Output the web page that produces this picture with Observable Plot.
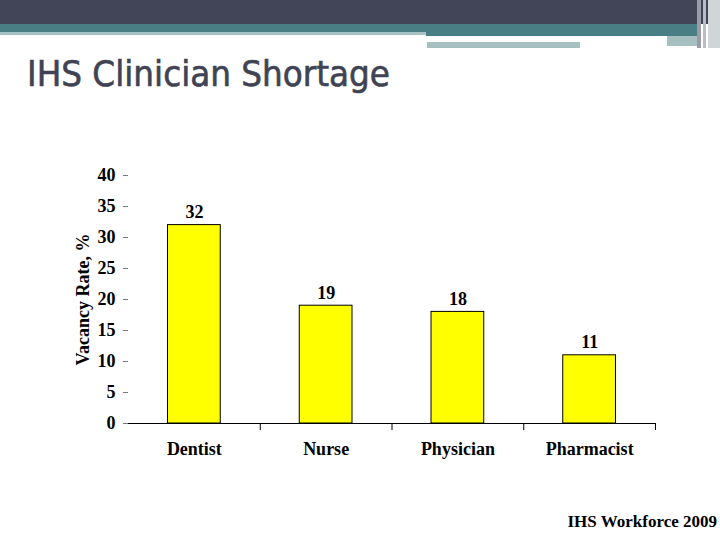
<!DOCTYPE html>
<html>
<head>
<meta charset="utf-8">
<script src="https://cdn.jsdelivr.net/npm/d3@7"></script>
<script src="https://cdn.jsdelivr.net/npm/@observablehq/plot@0.6"></script>
<style>
  html, body { margin: 0; padding: 0; background: #ffffff; }
  #page { position: relative; width: 720px; height: 540px; overflow: hidden; background: #fff; }
  .band { position: absolute; }
  #title { position: absolute; left: 27px; top: 56px; font-family: "DejaVu Sans Condensed", "DejaVu Sans", sans-serif; font-size: 36px; color: #404353; white-space: nowrap; transform-origin: left top; line-height: 1; -webkit-text-stroke: 0.6px #404353; }
  #chart { position: absolute; left: 0; top: 140px; }
  #chart svg text { font-weight: bold; }
  #caption { position: absolute; right: 3px; top: 512px; font-family: "Liberation Serif", "Times New Roman", serif; font-weight: bold; font-size: 17px; color: #000; white-space: nowrap; }
</style>
</head>
<body>
<div id="page">
  <div class="band" style="left:0;top:0;width:720px;height:24px;background:#424457;"></div>
  <div class="band" style="left:0;top:24px;width:700px;height:9px;background:#497f84;"></div>
  <div class="band" style="left:0;top:32px;width:426px;height:3px;background:#a8c3c5;"></div>
  <div class="band" style="left:426px;top:24px;width:274px;height:12px;background:#497f84;"></div>
  <div class="band" style="left:667px;top:36px;width:33px;height:10px;background:#a6c0c2;"></div>
  <div class="band" style="left:427px;top:42px;width:153px;height:6px;background:#a6c0c2;"></div>
  <div class="band" style="left:697px;top:0;width:4px;height:48px;background:#9a9ca6;"></div>
  <div class="band" style="left:703px;top:0;width:3px;height:48px;background:#b9bcc2;"></div>
  <div class="band" style="left:708px;top:0;width:12px;height:48px;background:#d0d6d8;"></div>
  <div id="title">IHS Clinician Shortage</div>
  <div id="chart"></div>
  <div id="caption">IHS Workforce 2009</div>
</div>
<script>
const categories = ["Dentist", "Nurse", "Physician", "Pharmacist"];
const values = [32, 19, 18, 11];
const yTicks = [0, 5, 10, 15, 20, 25, 30, 35, 40];
const yLabel = "Vacancy Rate, %";

const data = categories.map((c, i) => ({category: c, index: i, value: values[i]}));

const chart = Plot.plot({
  width: 720,
  height: 330,
  marginTop: 35,
  marginBottom: 47,
  marginLeft: 128,
  marginRight: 65,
  style: {
    fontFamily: "'Liberation Serif', 'Times New Roman', serif",
    fontSize: "18px",
    background: "transparent",
    color: "#000"
  },
  x: {domain: [0, categories.length], axis: null},
  y: {domain: [0, 40]},
  marks: [
    Plot.rectY(data, {
      x1: "index",
      x2: d => d.index + 1,
      y: "value",
      fill: "#ffff00",
      stroke: "#000",
      strokeWidth: 1,
      insetLeft: 39.5,
      insetRight: 39.5
    }),
    Plot.axisY({
      ticks: yTicks,
      tickSize: 5,
      tickPadding: 8,
      stroke: "#777",
      fill: "#000",
      label: yLabel,
      labelAnchor: "center",
      labelArrow: "none",
      labelOffset: 52,
      fontSize: 18
    }),
    Plot.ruleY([0], {stroke: "#000", strokeWidth: 1.2}),
    Plot.ruleX(d3.range(1, categories.length + 1), {y1: 0, y2: -1.13, stroke: "#000"}),
    Plot.text(data, {
      x: d => d.index + 0.5,
      y: 0,
      text: "category",
      dy: 26,
      lineAnchor: "middle",
      fontSize: 18,
      fill: "#000"
    }),
    Plot.text(data, {
      x: d => d.index + 0.5,
      y: "value",
      text: d => String(d.value),
      dy: -7,
      lineAnchor: "bottom",
      fontSize: 18,
      fill: "#000"
    })
  ]
});
document.getElementById("chart").appendChild(chart);
// Fit title to the reference width
const t = document.getElementById("title");
const w = t.getBoundingClientRect().width;
t.style.transform = `scaleX(${363 / w})`;
</script>
</body>
</html>
